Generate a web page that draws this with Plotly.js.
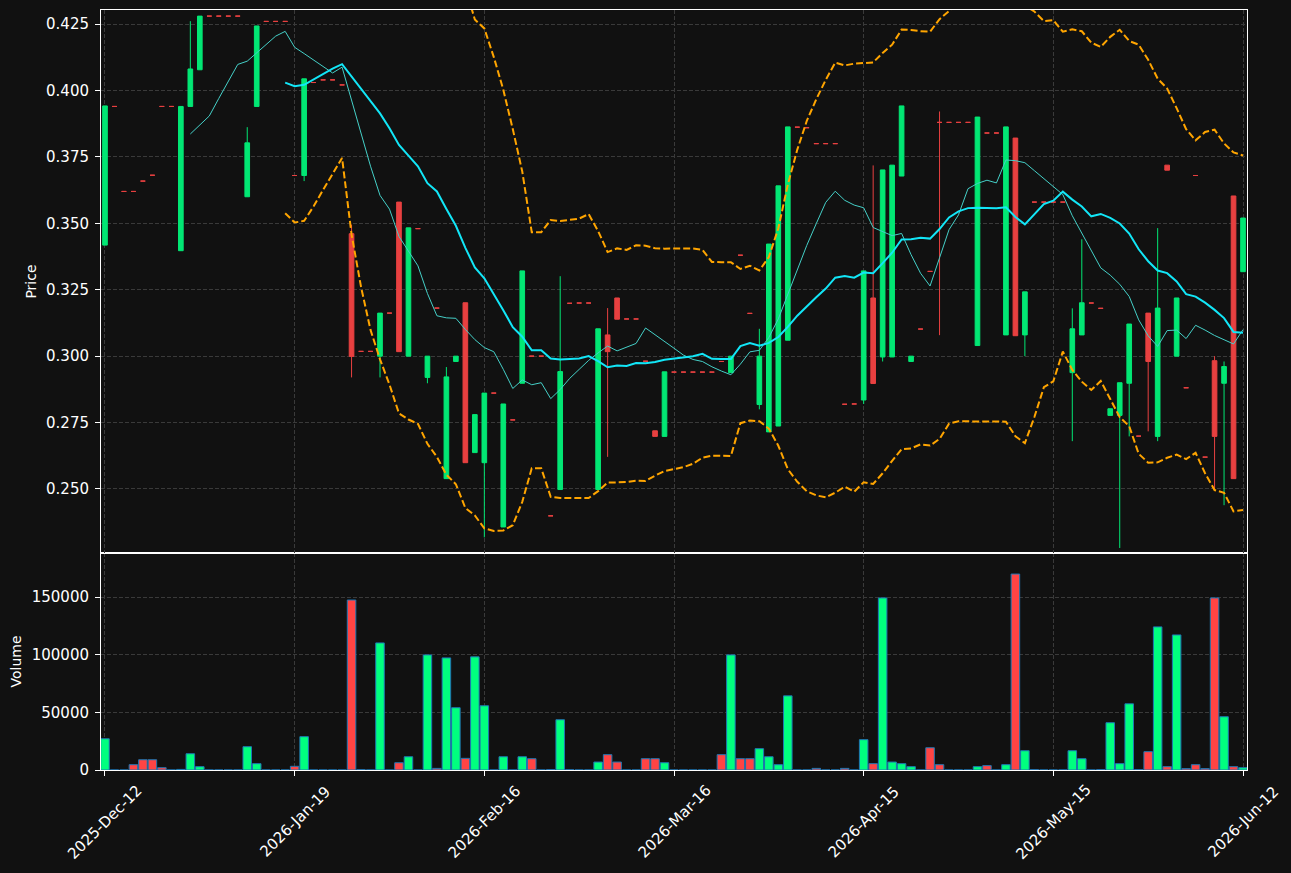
<!DOCTYPE html>
<html>
<head>
<meta charset="utf-8">
<script src="https://cdn.plot.ly/plotly-3.0.1.min.js"></script>
<style>
  html, body { margin: 0; padding: 0; background: #111111; }
  #chart { width: 1291px; height: 873px; }
</style>
</head>
<body>
<div id="chart"></div>
<script>
// ---- Data (one entry per trading session) ----
const opens = [
  0.3418, 0.394, 0.362, 0.362, 0.3659, 0.3681, 0.394, 0.394, 0.3397, 0.394,
  0.4078, 0.428, 0.428, 0.428, 0.428, 0.360, 0.394, 0.426, 0.426, 0.426,
  0.368, 0.368, 0.403, 0.404, 0.404, 0.4021, 0.3461, 0.3018, 0.3018, 0.300,
  0.3162, 0.358, 0.300, 0.348, 0.292, 0.3181, 0.2539, 0.298, 0.3201, 0.2637,
  0.2599, 0.2861, 0.2357, 0.276, 0.2898, 0.300, 0.300, 0.2399, 0.2498, 0.3199,
  0.320, 0.320, 0.2498, 0.308, 0.3219, 0.314, 0.314, 0.2981, 0.2719, 0.2698,
  0.294, 0.294, 0.294, 0.294, 0.294, 0.298, 0.2938, 0.338, 0.3161, 0.2818,
  0.2715, 0.2737, 0.306, 0.3862, 0.386, 0.380, 0.380, 0.380, 0.2819, 0.282,
  0.2835, 0.3219, 0.2997, 0.2997, 0.3678, 0.298, 0.3102, 0.3319, 0.388, 0.388,
  0.388, 0.388, 0.304, 0.384, 0.384, 0.308, 0.3821, 0.308, 0.358, 0.358,
  0.358, 0.358, 0.2938, 0.308, 0.320, 0.318, 0.2777, 0.2777, 0.2898, 0.2699,
  0.3162, 0.2698, 0.3719, 0.300, 0.2881, 0.368, 0.262, 0.2983, 0.2898, 0.3603,
  0.3318
];
const highs = [
  0.3942, 0.394, 0.362, 0.362, 0.3659, 0.3681, 0.394, 0.394, 0.394, 0.4261,
  0.428, 0.428, 0.428, 0.428, 0.428, 0.3862, 0.4243, 0.426, 0.426, 0.426,
  0.368, 0.4044, 0.403, 0.404, 0.404, 0.4021, 0.3495, 0.3018, 0.3018, 0.3162,
  0.3162, 0.358, 0.3483, 0.348, 0.300, 0.3181, 0.2959, 0.300, 0.3201, 0.278,
  0.2861, 0.2861, 0.282, 0.276, 0.3321, 0.300, 0.300, 0.2399, 0.3301, 0.3199,
  0.320, 0.320, 0.3103, 0.3181, 0.3219, 0.314, 0.314, 0.2981, 0.2719, 0.2941,
  0.294, 0.294, 0.294, 0.294, 0.294, 0.298, 0.300, 0.338, 0.3161, 0.3103,
  0.3422, 0.3641, 0.3863, 0.3862, 0.386, 0.380, 0.380, 0.380, 0.2819, 0.282,
  0.3321, 0.3718, 0.3701, 0.3719, 0.3942, 0.300, 0.3102, 0.3319, 0.3921, 0.388,
  0.388, 0.388, 0.390, 0.384, 0.384, 0.3863, 0.3821, 0.3242, 0.358, 0.358,
  0.358, 0.358, 0.318, 0.344, 0.320, 0.318, 0.2802, 0.290, 0.3121, 0.2699,
  0.3162, 0.3482, 0.3719, 0.3219, 0.2881, 0.368, 0.262, 0.300, 0.298, 0.3603,
  0.352
];
const lows = [
  0.3418, 0.394, 0.362, 0.362, 0.3659, 0.3681, 0.394, 0.394, 0.3397, 0.394,
  0.4078, 0.428, 0.428, 0.428, 0.428, 0.360, 0.394, 0.426, 0.426, 0.426,
  0.368, 0.3659, 0.403, 0.404, 0.404, 0.4021, 0.292, 0.3018, 0.3018, 0.292,
  0.3162, 0.3017, 0.300, 0.348, 0.2898, 0.3181, 0.2539, 0.298, 0.2599, 0.2637,
  0.2318, 0.2861, 0.2357, 0.276, 0.2898, 0.300, 0.300, 0.2399, 0.2498, 0.3199,
  0.320, 0.320, 0.2498, 0.2621, 0.3139, 0.314, 0.314, 0.2981, 0.2698, 0.2698,
  0.294, 0.294, 0.294, 0.294, 0.294, 0.298, 0.2938, 0.338, 0.3161, 0.280,
  0.2715, 0.2737, 0.306, 0.3862, 0.386, 0.380, 0.380, 0.380, 0.2819, 0.282,
  0.282, 0.2897, 0.298, 0.2997, 0.3678, 0.298, 0.3102, 0.3319, 0.3079, 0.388,
  0.388, 0.388, 0.304, 0.384, 0.384, 0.308, 0.3077, 0.300, 0.358, 0.358,
  0.358, 0.358, 0.268, 0.308, 0.320, 0.318, 0.2777, 0.2278, 0.2698, 0.2699,
  0.2717, 0.268, 0.370, 0.300, 0.2881, 0.368, 0.262, 0.2499, 0.2439, 0.2539,
  0.3318
];
const closes = [
  0.3942, 0.394, 0.362, 0.362, 0.3659, 0.3681, 0.394, 0.394, 0.394, 0.4081,
  0.428, 0.428, 0.428, 0.428, 0.428, 0.3803, 0.4243, 0.426, 0.426, 0.426,
  0.368, 0.4044, 0.403, 0.404, 0.404, 0.4021, 0.2999, 0.3018, 0.3018, 0.3162,
  0.3162, 0.3017, 0.3483, 0.348, 0.300, 0.3181, 0.2922, 0.300, 0.2599, 0.278,
  0.2861, 0.2861, 0.282, 0.276, 0.3321, 0.300, 0.300, 0.2399, 0.2942, 0.3199,
  0.320, 0.320, 0.3103, 0.3017, 0.3139, 0.314, 0.314, 0.2981, 0.2698, 0.2941,
  0.294, 0.294, 0.294, 0.294, 0.294, 0.298, 0.300, 0.338, 0.3161, 0.300,
  0.3422, 0.3641, 0.3863, 0.3862, 0.386, 0.380, 0.380, 0.380, 0.2819, 0.282,
  0.3321, 0.2897, 0.3701, 0.3719, 0.3942, 0.300, 0.3102, 0.3319, 0.388, 0.388,
  0.388, 0.388, 0.390, 0.384, 0.384, 0.3863, 0.3077, 0.3242, 0.358, 0.358,
  0.358, 0.358, 0.3103, 0.3201, 0.320, 0.318, 0.2802, 0.290, 0.3121, 0.2699,
  0.298, 0.3181, 0.370, 0.3219, 0.2881, 0.368, 0.262, 0.2698, 0.2961, 0.2539,
  0.352
];
const volumes = [
  27100, 0, 0, 4600, 8900, 8900, 2000, 0, 500, 14100,
  2900, 0, 0, 0, 0, 20200, 5500, 0, 0, 0,
  3200, 28900, 0, 0, 0, 0, 147400, 300, 0, 110200,
  0, 6300, 11500, 0, 99800, 1400, 97200, 54000, 10100, 98100,
  55700, 0, 11500, 0, 11500, 9800, 0, 300, 43600, 200,
  0, 0, 6900, 13300, 6900, 0, 0, 9800, 9800, 6300,
  0, 0, 0, 0, 0, 13300, 99800, 9800, 9800, 18500,
  11500, 4600, 64300, 0, 0, 1400, 0, 0, 1400, 0,
  26300, 5500, 149200, 6900, 5500, 2900, 0, 19300, 4600, 0,
  0, 0, 2900, 3800, 0, 4600, 169900, 16700, 300, 0,
  0, 0, 16700, 9800, 0, 300, 41000, 5500, 57400, 300,
  15900, 124100, 2900, 117100, 1200, 4600, 1200, 149200, 46200, 2900,
  2000
];
const tickIndex = [0, 20, 40, 60, 80, 100, 120];
const tickLabels = ['2025-Dec-12', '2026-Jan-19', '2026-Feb-16', '2026-Mar-16',
                    '2026-Apr-15', '2026-May-15', '2026-Jun-12'];

// ---- Style ----
const BG = '#111111';
const UP = '#02e774', DOWN = '#e84040';
const VUP = '#00ff7f', VDOWN = '#ff4444';
const GRID = '#3a3a3a';
const FONT = {family: 'DejaVu Sans', size: 14, color: '#ffffff'};
const TICKFONT = {family: 'DejaVu Sans', size: 15, color: '#ffffff'};

// ---- Indicators derived from the closes (SMA 10, SMA 20, Bollinger 20/2) ----
function sma(arr, n) {
  return arr.map((_, i) => {
    if (i < n - 1) return null;
    let s = 0;
    for (let k = i - n + 1; k <= i; k++) s += arr[k];
    return s / n;
  });
}
function band(arr, n, mult, sign) {
  const m = sma(arr, n);
  return arr.map((_, i) => {
    if (m[i] === null) return null;
    let s = 0;
    for (let k = i - n + 1; k <= i; k++) s += (arr[k] - m[i]) ** 2;
    return m[i] + sign * mult * Math.sqrt(s / n);
  });
}
const idx = closes.map((_, i) => i);
const ma10 = sma(closes, 10);
const ma20 = sma(closes, 20);
const bbUp = band(closes, 20, 2, 1);
const bbLo = band(closes, 20, 2, -1);

const isUp = idx.map(i => closes[i] > opens[i]);
function subset(flag) {
  const ids = idx.filter(i => isUp[i] === flag);
  return {
    x: ids,
    open: ids.map(i => opens[i]),
    high: ids.map(i => highs[i]),
    low: ids.map(i => lows[i]),
    close: ids.map(i => closes[i])
  };
}
function candle(flag, col) {
  const s = subset(flag);
  return Object.assign({
    type: 'candlestick', xaxis: 'x2', yaxis: 'y2',
    increasing: {line: {color: col, width: 1}, fillcolor: col},
    decreasing: {line: {color: col, width: 1}, fillcolor: col},
    whiskerwidth: 0, hoverinfo: 'skip', showlegend: false
  }, s);
}
function line(y, col, w, dash) {
  return {type: 'scatter', mode: 'lines', x: idx, y: y, xaxis: 'x2', yaxis: 'y2',
          line: {color: col, width: w, dash: dash || 'solid'},
          hoverinfo: 'skip', showlegend: false, connectgaps: false};
}

const traces = [
  candle(true, UP),
  candle(false, DOWN),
  line(ma10, '#45d0c8', 1),
  line(ma20, '#12e6f7', 2),
  line(bbUp, '#ffa500', 2, '7px,3px'),
  line(bbLo, '#ffa500', 2, '7px,3px'),
  {
    type: 'bar', x: idx, y: volumes, xaxis: 'x', yaxis: 'y',
    width: 0.9,
    marker: {color: idx.map(i => isUp[i] ? VUP : VDOWN), line: {color: '#1f77b4', width: 1}},
    hoverinfo: 'skip', showlegend: false
  }
];

const axisCommon = {
  showline: true, linecolor: '#ffffff', linewidth: 1, mirror: true,
  ticks: 'outside', ticklen: 5, tickcolor: '#ffffff', tickwidth: 1,
  showgrid: true, gridcolor: GRID, griddash: '4px,2px', gridwidth: 1,
  zeroline: false, tickfont: TICKFONT
};
const xr = [-0.42, 120.42];
const split = 0.2855;

// rotated date labels, centred on their ticks (as in the reference)
const dateLabels = tickIndex.map((v, k) => ({
  x: v, xref: 'x', y: -0.068, yref: 'paper',
  text: tickLabels[k], textangle: -45, showarrow: false,
  xanchor: 'center', yanchor: 'middle', font: TICKFONT
}));

const layout = {
  width: 1291, height: 873,
  paper_bgcolor: BG, plot_bgcolor: BG,
  margin: {l: 101, r: 44, t: 10, b: 103},
  font: FONT,
  showlegend: false,
  bargap: 0,
  annotations: dateLabels,
  xaxis: Object.assign({}, axisCommon, {
    domain: [0, 1], anchor: 'y', range: xr,
    tickmode: 'array', tickvals: tickIndex, ticktext: tickLabels,
    showticklabels: false, rangeslider: {visible: false}
  }),
  xaxis2: Object.assign({}, axisCommon, {
    domain: [0, 1], anchor: 'y2', range: xr, matches: 'x',
    tickmode: 'array', tickvals: tickIndex, ticktext: tickLabels,
    showticklabels: false, ticks: '', rangeslider: {visible: false}
  }),
  yaxis: Object.assign({}, axisCommon, {
    domain: [0, split], anchor: 'x', range: [0, 188140],
    tickmode: 'array', tickvals: [0, 50000, 100000, 150000], tickformat: 'd',
    ticklabelstandoff: 3,
    title: {text: 'Volume', font: FONT, standoff: 6}
  }),
  yaxis2: Object.assign({}, axisCommon, {
    domain: [split, 1], anchor: 'x2', range: [0.2259, 0.4303],
    tickmode: 'linear', tick0: 0.25, dtick: 0.025, tickformat: '.3f',
    ticklabelstandoff: 3,
    title: {text: 'Price', font: FONT, standoff: 6}
  })
};

Plotly.newPlot('chart', traces, layout, {displayModeBar: false, staticPlot: true});
</script>
</body>
</html>
